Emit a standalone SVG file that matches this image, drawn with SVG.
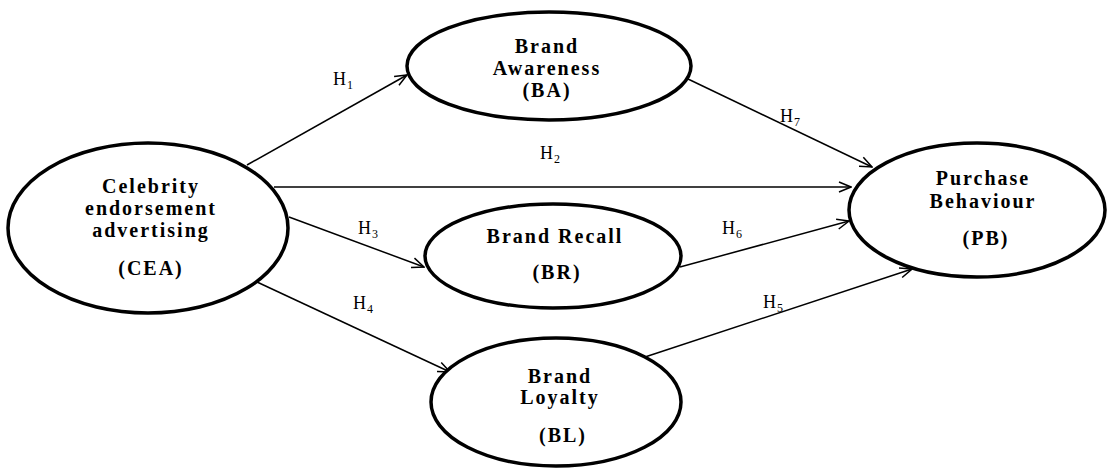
<svg xmlns="http://www.w3.org/2000/svg" width="1107" height="473" viewBox="0 0 1107 473">
<style>
.node ellipse{fill:#fff;stroke:#000;stroke-width:3.5}
.lbl{font-family:"Liberation Serif","Times New Roman",serif;font-weight:bold;font-size:20px;letter-spacing:2px;text-anchor:middle;fill:#000}
.h{font-family:"Liberation Serif","Times New Roman",serif;font-size:18px;letter-spacing:1px;fill:#000}
.h tspan.s{font-size:12px}
#connectors line{stroke:#000;stroke-width:1.5;fill:none}
</style>
<defs>
<marker id="arr" viewBox="0 0 14 12" refX="13" refY="6" markerWidth="14" markerHeight="12" markerUnits="userSpaceOnUse" orient="auto">
<path d="M1,1 L13,6 L1,11" fill="none" stroke="#000" stroke-width="1.5"/>
</marker>
</defs>
<rect width="1107" height="473" fill="#fff"/>
<g id="connectors">
<line x1="247" y1="165" x2="407" y2="75" marker-end="url(#arr)"/>
<line x1="274" y1="187" x2="851" y2="187" marker-end="url(#arr)"/>
<line x1="289" y1="217" x2="424" y2="267" marker-end="url(#arr)"/>
<line x1="257" y1="282" x2="450" y2="372" marker-end="url(#arr)"/>
<line x1="688" y1="79" x2="872" y2="167" marker-end="url(#arr)"/>
<line x1="680" y1="267" x2="849" y2="221" marker-end="url(#arr)"/>
<line x1="645" y1="357" x2="912" y2="269" marker-end="url(#arr)"/>
</g>
<g id="hlabels">
<text class="h" x="333" y="85">H<tspan class="s" dy="4">1</tspan></text>
<text class="h" x="540" y="159">H<tspan class="s" dy="4">2</tspan></text>
<text class="h" x="358" y="234">H<tspan class="s" dy="4">3</tspan></text>
<text class="h" x="353" y="309">H<tspan class="s" dy="4">4</tspan></text>
<text class="h" x="763" y="308">H<tspan class="s" dy="4">5</tspan></text>
<text class="h" x="722" y="234">H<tspan class="s" dy="4">6</tspan></text>
<text class="h" x="780" y="122">H<tspan class="s" dy="4">7</tspan></text>
</g>
<g id="CEA" class="node">
<ellipse cx="148" cy="228" rx="140" ry="85"/>
<text class="lbl" x="151" y="193">Celebrity</text>
<text class="lbl" x="151" y="215">endorsement</text>
<text class="lbl" x="151" y="237">advertising</text>
<text class="lbl" x="151" y="275">(CEA)</text>
</g>
<g id="BA" class="node">
<ellipse cx="549" cy="66" rx="142" ry="54"/>
<text class="lbl" x="547" y="53">Brand</text>
<text class="lbl" x="547" y="75">Awareness</text>
<text class="lbl" x="547" y="97">(BA)</text>
</g>
<g id="PB" class="node">
<ellipse cx="977" cy="210" rx="128" ry="67"/>
<text class="lbl" x="983" y="185">Purchase</text>
<text class="lbl" x="983" y="208">Behaviour</text>
<text class="lbl" x="986" y="245">(PB)</text>
</g>
<g id="BR" class="node">
<ellipse cx="553" cy="256" rx="128" ry="52"/>
<text class="lbl" x="555" y="243">Brand Recall</text>
<text class="lbl" x="557" y="279">(BR)</text>
</g>
<g id="BL" class="node">
<ellipse cx="556" cy="402" rx="125" ry="64"/>
<text class="lbl" x="560" y="383">Brand</text>
<text class="lbl" x="560" y="404">Loyalty</text>
<text class="lbl" x="563" y="442">(BL)</text>
</g>
</svg>
